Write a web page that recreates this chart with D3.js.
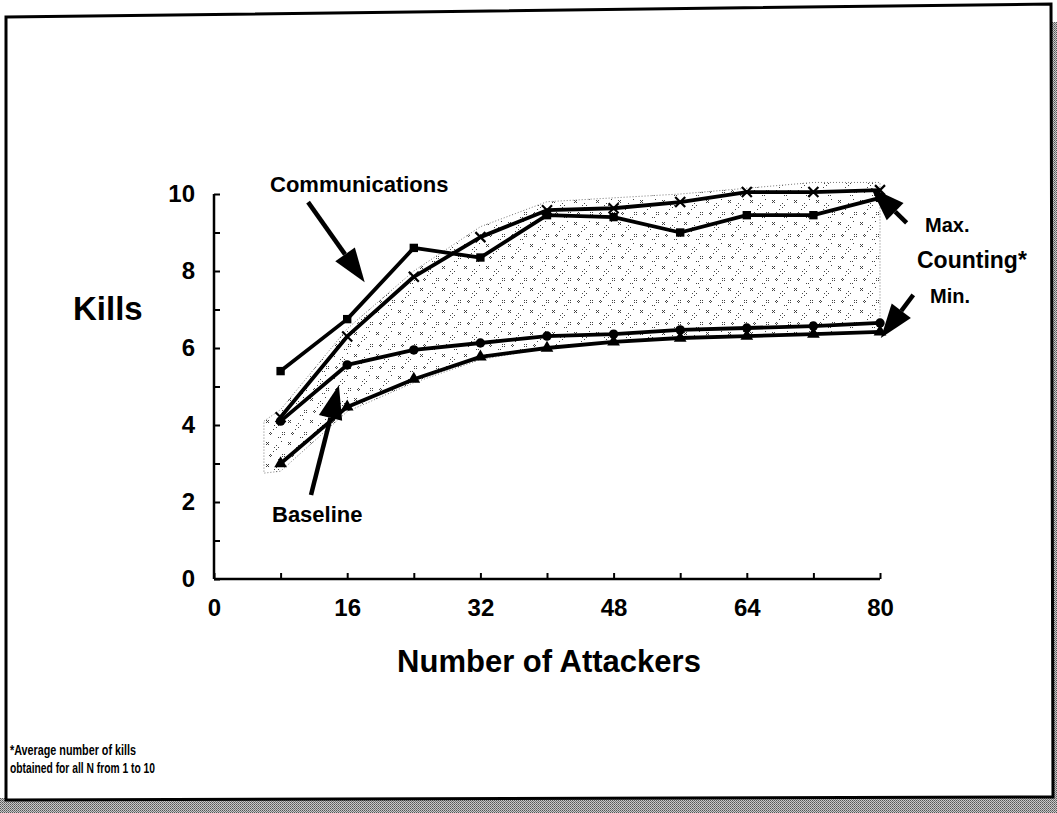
<!DOCTYPE html>
<html>
<head>
<meta charset="utf-8">
<script src="https://cdn.jsdelivr.net/npm/d3@7"></script>
<style>
  html, body { margin: 0; padding: 0; background: #fff; }
  svg { display: block; }
  text { font-family: 'Liberation Sans', Arial, Helvetica, sans-serif; font-weight: bold; fill: #000; }
</style>
</head>
<body>
<script>
// attackers on the x axis
const attackers = [8, 16, 24, 32, 40, 48, 56, 64, 72, 80];

// kills per series
const communications = [5.4, 6.75, 8.6, 8.35, 9.45, 9.4, 9.0, 9.45, 9.45, 9.9];
const countingMax = [4.2, 6.3, 7.85, 8.88, 9.58, 9.63, 9.79, 10.05, 10.05, 10.1];
const countingMin = [4.1, 5.56, 5.95, 6.13, 6.31, 6.36, 6.47, 6.52, 6.57, 6.65];
const baseline = [3.0, 4.47, 5.19, 5.77, 6.0, 6.16, 6.26, 6.31, 6.36, 6.42];

// hand drawn shaded band round the counting range
const bandX = [6, 8, 16, 24, 32, 40, 48, 56, 64, 72, 80];
const bandTop = [4.1, 4.4, 6.5, 8.0, 9.15, 9.8, 9.9, 10.0, 10.15, 10.3, 10.3];
const bandBottom = [2.75, 2.8, 4.35, 5.1, 5.7, 6.0, 6.15, 6.25, 6.3, 6.35, 6.4];

const xTicks = d3.range(0, 81, 8);
const xLabels = [0, 16, 32, 48, 64, 80];
const yTicks = d3.range(0, 11, 1);
const yLabels = [0, 2, 4, 6, 8, 10];

const W = 1057, H = 813;
const svg = d3.select('body').append('svg').attr('width', W).attr('height', H);

const x = d3.scaleLinear().domain([0, 80]).range([214, 880]);
const y = d3.scaleLinear().domain([0, 10]).range([579, 194]);

const defs = svg.append('defs');

// stipple texture for the band: little crosses and diamonds of dots
const stip = defs.append('pattern').attr('id', 'stipple')
  .attr('patternUnits', 'userSpaceOnUse').attr('width', 22).attr('height', 22);
const marks = [[2, 2], [4, 4], [2, 4], [4, 2], [3, 3],
  [12, 5], [14, 7], [12, 9], [10, 7],
  [18, 14], [20, 16], [18, 16], [20, 14],
  [6, 14], [7, 15], [5, 15], [6, 16],
  [14, 19], [16, 19], [9, 11], [17, 1]];
stip.selectAll('rect').data(marks).enter().append('rect')
  .attr('x', (d) => d[0]).attr('y', (d) => d[1])
  .attr('width', 1).attr('height', 1).attr('fill', '#444');

// dithered shadow texture
const shade = defs.append('pattern').attr('id', 'shadow')
  .attr('patternUnits', 'userSpaceOnUse').attr('width', 2).attr('height', 2);
shade.append('rect').attr('width', 2).attr('height', 2).attr('fill', '#c8c8c8');
shade.append('rect').attr('width', 1).attr('height', 1).attr('fill', '#555');
shade.append('rect').attr('x', 1).attr('y', 1).attr('width', 1).attr('height', 1).attr('fill', '#777');

// frame and its shadow
svg.append('rect').attr('x', 0).attr('y', 798).attr('width', W).attr('height', 15).attr('fill', 'url(#shadow)');
svg.append('rect').attr('x', 1052).attr('y', 22).attr('width', 5).attr('height', 780).attr('fill', 'url(#shadow)');
svg.append('path')
  .attr('d', 'M6,17L1051,4L1053,797L6,800Z')
  .attr('fill', '#fff').attr('stroke', '#000').attr('stroke-width', 3);

// shaded band
const band = bandX.map((v, i) => ({ x: v, top: bandTop[i], bottom: bandBottom[i] }));
svg.append('path').datum(band)
  .attr('d', d3.area().x((d) => x(d.x)).y0((d) => y(d.bottom)).y1((d) => y(d.top)))
  .attr('fill', 'url(#stipple)')
  .attr('stroke', '#777').attr('stroke-width', 1).attr('stroke-dasharray', '1,2');

// axes
const gy = svg.append('g').attr('transform', `translate(${x(0)},0)`)
  .call(d3.axisLeft(y).tickValues(yTicks).tickSizeInner(-6).tickSizeOuter(0).tickPadding(19)
    .tickFormat((d) => (yLabels.includes(d) ? d : '')));
const gx = svg.append('g').attr('transform', `translate(0,${y(0)})`)
  .call(d3.axisBottom(x).tickValues(xTicks).tickSizeInner(-6).tickSizeOuter(0).tickPadding(20)
    .tickFormat((d) => (xLabels.includes(d) ? d : '')));
[gx, gy].forEach((g) => {
  g.select('.domain').attr('stroke', '#000').attr('stroke-width', 2.5);
  g.selectAll('.tick line').attr('stroke', '#000').attr('stroke-width', 2);
  g.selectAll('.tick text').style('font-size', '24px')
    .style('font-family', "'Liberation Sans', Arial, sans-serif")
    .style('font-weight', 'bold').attr('fill', '#000');
});
gy.select('.domain').attr('d', `M0,${y(0)}V${y(10)}`);
gx.select('.domain').attr('d', `M${x(0)},0H${x(80)}`);

// series lines
const line = d3.line().x((d, i) => x(attackers[i])).y((d) => y(d));
const series = [
  { v: baseline, m: 'triangle' },
  { v: countingMin, m: 'circle' },
  { v: countingMax, m: 'cross' },
  { v: communications, m: 'square' }
];
series.forEach((s) => {
  svg.append('path').datum(s.v).attr('d', line)
    .attr('fill', 'none').attr('stroke', '#000').attr('stroke-width', 3.8)
    .attr('stroke-linejoin', 'round');
  const g = svg.append('g');
  if (s.m === 'cross') {
    g.selectAll('path').data(s.v).enter().append('path')
      .attr('d', (d, i) => {
        const cx = x(attackers[i]), cy = y(d);
        return `M${cx - 5},${cy - 5}L${cx + 5},${cy + 5}M${cx - 5},${cy + 5}L${cx + 5},${cy - 5}`;
      })
      .attr('stroke', '#000').attr('stroke-width', 2.2);
  } else {
    const type = { triangle: d3.symbolTriangle, circle: d3.symbolCircle, square: d3.symbolSquare }[s.m];
    g.selectAll('path').data(s.v).enter().append('path')
      .attr('transform', (d, i) => `translate(${x(attackers[i])},${y(d)})`)
      .attr('d', d3.symbol().type(type).size(70))
      .attr('fill', '#000');
  }
});

// arrows
function arrow(x1, y1, x2, y2) {
  const ax = x(x1), ay = y(y1), bx = x(x2), by = y(y2);
  const len = Math.hypot(bx - ax, by - ay);
  const ux = (bx - ax) / len, uy = (by - ay) / len;
  const hl = 34, hw = 12;
  const baseX = bx - ux * hl, baseY = by - uy * hl;
  svg.append('line').attr('x1', ax).attr('y1', ay).attr('x2', baseX).attr('y2', baseY)
    .attr('stroke', '#000').attr('stroke-width', 4.5);
  svg.append('path')
    .attr('d', `M${bx},${by}L${baseX - uy * hw},${baseY + ux * hw}L${baseX + uy * hw},${baseY - ux * hw}Z`)
    .attr('fill', '#000');
}
arrow(11.3, 9.79, 18.1, 7.71);
arrow(11.65, 2.18, 15.0, 5.04);
arrow(83.2, 9.25, 78.9, 10.16);
arrow(84.0, 7.38, 80.1, 6.26);

// labels
svg.append('text').attr('x', 270).attr('y', 192).style('font-size', '22px').text('Communications');
svg.append('text').attr('x', 272).attr('y', 522).style('font-size', '22px').text('Baseline');
svg.append('text').attr('x', 925).attr('y', 232).style('font-size', '20px').text('Max.');
svg.append('text').attr('x', 917).attr('y', 268).style('font-size', '23px').text('Counting*');
svg.append('text').attr('x', 930).attr('y', 303).style('font-size', '20px').text('Min.');
svg.append('text').attr('x', 73).attr('y', 320).style('font-size', '33px').text('Kills');
svg.append('text').attr('x', 549).attr('y', 672).attr('text-anchor', 'middle')
  .style('font-size', '31px').text('Number of Attackers');
svg.append('text').attr('x', 10).attr('y', 755).style('font-size', '15px')
  .attr('textLength', 126).attr('lengthAdjust', 'spacingAndGlyphs')
  .text('*Average number of kills');
svg.append('text').attr('x', 10).attr('y', 773).style('font-size', '15px')
  .attr('textLength', 145).attr('lengthAdjust', 'spacingAndGlyphs')
  .text('obtained for all N from 1 to 10');
</script>
</body>
</html>
